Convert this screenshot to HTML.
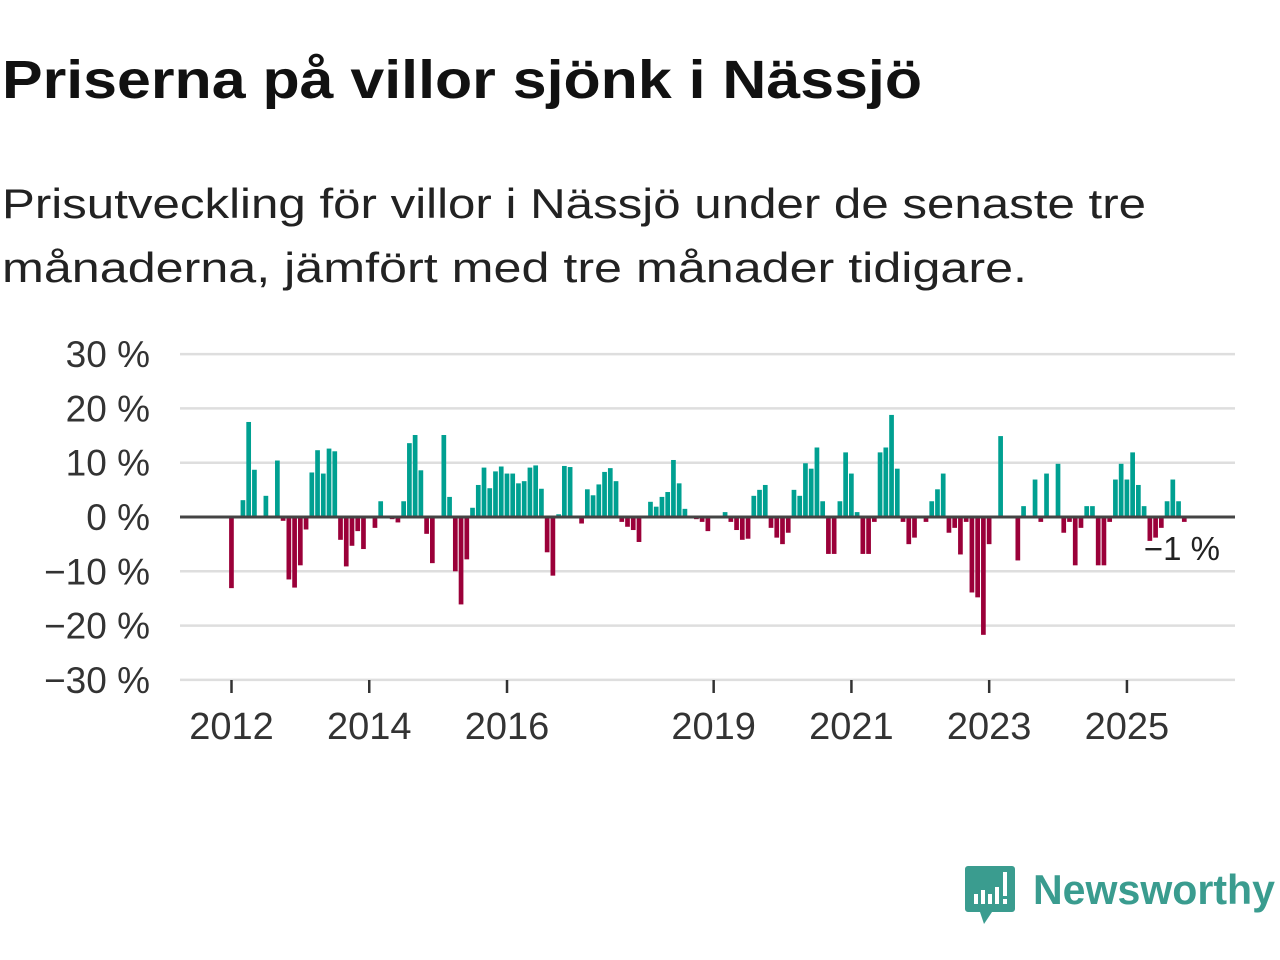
<!DOCTYPE html>
<html><head><meta charset="utf-8"><style>
html,body{margin:0;padding:0;background:#fff;width:1280px;height:960px;overflow:hidden}
svg{display:block;font-family:"Liberation Sans","DejaVu Sans",sans-serif}
</style></head><body>
<svg id="chart" width="1280" height="960" viewBox="0 0 1280 960">
<text x="2" y="98" font-size="54" font-weight="bold" fill="#111" textLength="920" lengthAdjust="spacingAndGlyphs">Priserna på villor sjönk i Nässjö</text>
<text x="2" y="218" font-size="42" fill="#222" textLength="1144" lengthAdjust="spacingAndGlyphs">Prisutveckling för villor i Nässjö under de senaste tre</text>
<text x="2" y="282" font-size="42" fill="#222" textLength="1025" lengthAdjust="spacingAndGlyphs">månaderna, jämfört med tre månader tidigare.</text>
<g id="grid"></g>
<g id="bars"></g>
<g id="axes"></g>
<text x="1220" y="560" font-size="33" fill="#222" text-anchor="end">−1 %</text>
<g>
<path d="M968 866 h44 a3 3 0 0 1 3 3 v40 a3 3 0 0 1 -3 3 h-20 l-8 12 l-4 -12 h-12 a3 3 0 0 1 -3 -3 v-40 a3 3 0 0 1 3 -3z" fill="#3a9c8f"/>
<rect x="974" y="894" width="4" height="10" fill="#fff"/><rect x="981" y="890" width="4" height="14" fill="#fff"/><rect x="988" y="894" width="4" height="10" fill="#fff"/><rect x="995" y="887" width="4" height="17" fill="#fff"/><rect x="1003" y="872" width="4" height="24" fill="#fff"/><rect x="1003" y="899" width="4" height="5" fill="#fff"/>
<text x="1033" y="904" font-size="42" font-weight="bold" fill="#3a9c8f" textLength="242" lengthAdjust="spacingAndGlyphs">Newsworthy</text>
</g>
</svg>
<script>
const values = [-13.1,null,3.1,17.5,8.7,null,3.9,null,10.4,-0.7,-11.5,-13.0,-8.9,-2.3,8.2,12.3,8.0,12.6,12.1,-4.2,-9.1,-5.3,-2.6,-5.9,null,-2.0,2.9,null,-0.4,-1.0,2.9,13.6,15.1,8.6,-3.1,-8.5,null,15.1,3.7,-10.0,-16.1,-7.8,1.7,5.9,9.1,5.3,8.4,9.3,8.0,8.0,6.2,6.6,9.1,9.5,5.2,-6.5,-10.8,0.5,9.4,9.2,null,-1.2,5.1,4.0,6.0,8.3,9.0,6.6,-0.9,-1.8,-2.4,-4.6,null,2.8,1.9,3.7,4.6,10.5,6.2,1.5,null,-0.4,-0.9,-2.6,null,null,0.9,-0.9,-2.4,-4.2,-4.0,3.9,5.0,5.9,-2.0,-3.8,-5.0,-2.9,5.0,3.9,9.9,8.9,12.8,2.9,-6.8,-6.8,2.9,11.9,8.0,0.9,-6.8,-6.8,-0.9,11.9,12.8,18.8,8.9,-0.9,-5.0,-3.8,null,-0.9,2.9,5.1,8.0,-2.9,-2.0,-6.9,-0.9,-13.9,-14.8,-21.7,-5.0,null,14.9,null,null,-8.0,2.0,null,6.9,-0.9,8.0,null,9.8,-2.9,-0.9,-8.9,-2.0,2.0,2.0,-8.9,-8.9,-0.9,6.9,9.8,6.9,11.9,5.9,2.0,-4.4,-3.8,-2.0,2.9,6.9,2.9,-0.9];
const yTicks = [30,20,10,0,-10,-20,-30];
const yTickLabels = ["30 %","20 %","10 %","0 %","−10 %","−20 %","−30 %"];
const xTickYears = [2012,2014,2016,2019,2021,2023,2025];
const startYear = 2012;

const NS = "http://www.w3.org/2000/svg";
function y(v){ return 517 - v*5.43; }
function x(m){ return 231.5 + m*5.74; }
function mk(tag, attrs, parent){
  const e = document.createElementNS(NS, tag);
  for (const k in attrs) e.setAttribute(k, attrs[k]);
  parent.appendChild(e); return e;
}
const grid = document.getElementById('grid');
const bars = document.getElementById('bars');
const axes = document.getElementById('axes');
yTicks.forEach((t,i)=>{
  if (t !== 0) {
    const l = mk('line',{x1:180,x2:1235,y1:y(t),y2:y(t),stroke:'#dedede','stroke-width':2.5},grid);
    
    
  }
  const tx = mk('text',{x:150,y:y(t)+13,'font-size':37,fill:'#333','text-anchor':'end'},axes);
  tx.textContent = yTickLabels[i];
  
  
});
values.forEach((v,m)=>{
  if (v === null) return;
  const y0 = y(0), y1 = y(v);
  const r = mk('rect',{x:x(m)-2.4,width:4.7,y:Math.min(y0,y1),height:Math.abs(y1-y0),fill:v>=0?'#00a091':'#9b0039'},bars);
  
  
});
const zl = mk('line',{x1:180,x2:1235,y1:y(0),y2:y(0),stroke:'#444','stroke-width':3},axes);


xTickYears.forEach(yr=>{
  const m = (yr-startYear)*12;
  const t = mk('line',{x1:x(m),x2:x(m),y1:680,y2:693,stroke:'#333','stroke-width':2.5},axes);
  
  
  const tx = mk('text',{x:x(m),y:739,'font-size':38,fill:'#333','text-anchor':'middle'},axes);
  tx.textContent = yr;
  
  
});
</script>
</body></html>
